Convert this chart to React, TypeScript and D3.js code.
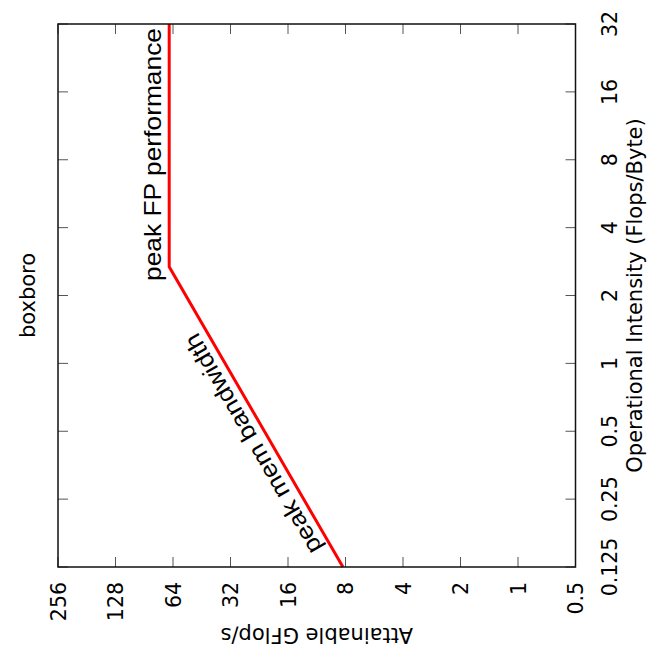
import React from "react";
import * as d3 from "d3";

const title = "boxboro";
const xAxisLabel = "Operational Intensity (Flops/Byte)";
const yAxisLabel = "Attainable GFlop/s";

const intensityTicks = [0.125, 0.25, 0.5, 1, 2, 4, 8, 16, 32];
const intensityTickLabels = ["0.125", "0.25", "0.5", "1", "2", "4", "8", "16", "32"];
const gflopTicks = [0.5, 1, 2, 4, 8, 16, 32, 64, 128, 256];
const gflopTickLabels = ["0.5", "1", "2", "4", "8", "16", "32", "64", "128", "256"];

const rooflineIntensity = [0.125, 2.68, 32];
const rooflineGflops = [8.25, 67, 67];

const annotationTexts = ["peak mem bandwidth", "peak FP performance"];
const annotationIntensity = [0.158, 2.32];

const W = 650;
const H = 653;
const left = 58;
const right = 575.5;
const top = 24;
const bottom = 567;

const TICK_FONT = "'DejaVu Sans', sans-serif";
const ANN_FONT = "'Liberation Sans', Arial, sans-serif";

export default function App() {
  // Rotated gnuplot chart: intensity runs vertically (bottom->top), GFlop/s horizontally (right->left)
  const oi = d3.scaleLog().base(2).domain([0.125, 32]).range([bottom, top]);
  const gf = d3.scaleLog().base(2).domain([0.5, 256]).range([right, left]);

  const pts: [number, number][] = rooflineIntensity.map((v, i) => [gf(rooflineGflops[i]), oi(v)]);
  const line = d3.line<[number, number]>().x((d) => d[0]).y((d) => d[1]);

  // bandwidth segment geometry
  const [p0, p1] = [pts[0], pts[1]];
  const angle = (Math.atan2(p1[1] - p0[1], p1[0] - p0[0]) * 180) / Math.PI;
  const memSy = oi(annotationIntensity[0]);
  const t = (memSy - p0[1]) / (p1[1] - p0[1]);
  const memSx = p0[0] + t * (p1[0] - p0[0]);
  const rad = (angle * Math.PI) / 180;
  const upX = Math.sin(rad); // glyph-up vector = rotate (0,-1)
  const upY = -Math.cos(rad);
  const off = 8;
  const memX = memSx + upX * off;
  const memY = memSy + upY * off;

  const fpX = gf(rooflineGflops[1]) - 8.5;
  const fpY = oi(annotationIntensity[1]);

  const tickLen = 10;

  return (
    <svg
      width={W}
      height={H}
      style={{ position: "absolute", left: 0, top: 0, background: "#fff" }}
      xmlns="http://www.w3.org/2000/svg"
    >
      <rect x={0} y={0} width={W} height={H} fill="#fff" />

      {/* ticks: intensity (right, mirrored left) */}
      {intensityTicks.map((v) => (
        <g key={"oi" + v}>
          <line x1={right} x2={right - tickLen} y1={oi(v)} y2={oi(v)} stroke="#555" strokeWidth={1} />
          <line x1={left} x2={left + tickLen} y1={oi(v)} y2={oi(v)} stroke="#555" strokeWidth={1} />
        </g>
      ))}
      {/* ticks: gflops (bottom, mirrored top) */}
      {gflopTicks.map((v) => (
        <g key={"gf" + v}>
          <line x1={gf(v)} x2={gf(v)} y1={bottom} y2={bottom - tickLen} stroke="#555" strokeWidth={1} />
          <line x1={gf(v)} x2={gf(v)} y1={top} y2={top + tickLen} stroke="#555" strokeWidth={1} />
        </g>
      ))}

      {/* roofline */}
      <path d={line(pts) || ""} fill="none" stroke="#ff0000" strokeWidth={3} strokeLinejoin="miter" />

      {/* frame */}
      <rect x={left} y={top} width={right - left} height={bottom - top} fill="none" stroke="#111" strokeWidth={1.5} />

      {/* intensity tick labels */}
      {intensityTicks.map((v, i) => (
        <text
          key={"oil" + v}
          transform={`translate(${right + 41},${oi(v)}) rotate(-90)`}
          textAnchor="middle"
          fontFamily={TICK_FONT}
          fontSize={20.5}
          fill="#000"
        >
          {intensityTickLabels[i]}
        </text>
      ))}
      {/* gflop tick labels */}
      {gflopTicks.map((v, i) => (
        <text
          key={"gfl" + v}
          transform={`translate(${gf(v) + 7.5},${bottom + 15}) rotate(-90)`}
          textAnchor="end"
          fontFamily={TICK_FONT}
          fontSize={20.5}
          fill="#000"
        >
          {gflopTickLabels[i]}
        </text>
      ))}

      {/* axis labels */}
      <text
        transform={`translate(${W - 8},${(top + bottom) / 2}) rotate(-90)`}
        textAnchor="middle"
        fontFamily={TICK_FONT}
        fontSize={21}
        fill="#000"
      >
        {xAxisLabel}
      </text>
      <text
        transform={`translate(${(left + right) / 2},${bottom + 61}) rotate(180)`}
        textAnchor="middle"
        fontFamily={TICK_FONT}
        fontSize={21}
        fill="#000"
      >
        {yAxisLabel}
      </text>
      <text
        transform={`translate(35,${(top + bottom) / 2}) rotate(-90)`}
        textAnchor="middle"
        fontFamily={TICK_FONT}
        fontSize={21}
        fill="#000"
      >
        {title}
      </text>

      {/* annotations */}
      <text
        transform={`translate(${memX},${memY}) rotate(${angle})`}
        textAnchor="start"
        fontFamily={ANN_FONT}
        fontSize={24}
        textLength={250}
        lengthAdjust="spacingAndGlyphs"
        fill="#000"
      >
        {annotationTexts[0]}
      </text>
      <text
        transform={`translate(${fpX},${fpY}) rotate(-90)`}
        textAnchor="start"
        fontFamily={ANN_FONT}
        fontSize={24}
        textLength={253}
        lengthAdjust="spacingAndGlyphs"
        fill="#000"
      >
        {annotationTexts[1]}
      </text>
    </svg>
  );
}
